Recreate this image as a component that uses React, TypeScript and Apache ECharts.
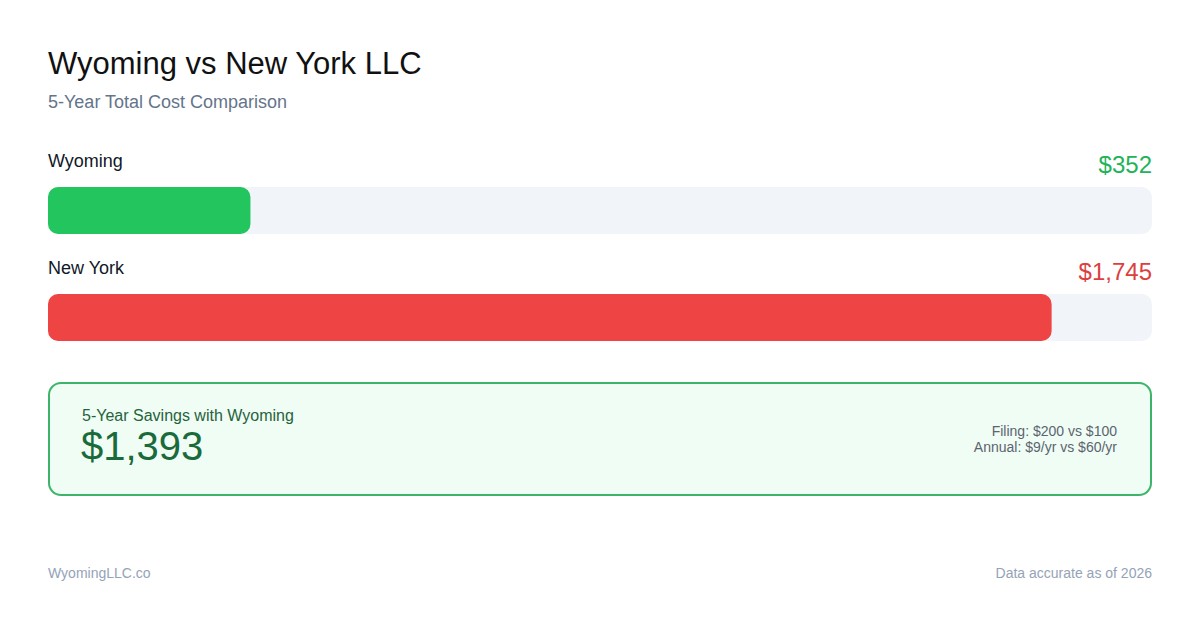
import React, { useEffect, useRef } from "react";
import * as echarts from "echarts";

const states = ["Wyoming", "New York"];
const totals = [352, 1745];
const barColors = ["#22c55e", "#ef4444"];
const valueColors = ["#22b35a", "#dc3f3f"];
const savings = 1393;
const details = ["Filing: $200 vs $100", "Annual: $9/yr vs $60/yr"];

const W = 1200;
const H = 630;
const FONT = "'Liberation Sans', Arial, Helvetica, sans-serif";
const fmt = (v: number) => "$" + v.toLocaleString("en-US");

export default function App() {
  const ref = useRef<HTMLDivElement>(null);
  useEffect(() => {
    if (!ref.current) return;
    const chart = echarts.init(ref.current, null, { renderer: "svg" });
    const gridTop = 157;
    const band = 107;
    const labelTexts: any[] = [];
    states.forEach((s, i) => {
      const cy = gridTop + band * i + band / 2;
      labelTexts.push({
        type: "text",
        left: 48,
        top: cy - 59,
        style: { text: s, font: `18px ${FONT}`, fill: "#111827" },
      });
      labelTexts.push({
        type: "text",
        right: 48,
        top: cy - 58,
        style: { text: fmt(totals[i]), font: `24px ${FONT}`, fill: valueColors[i] },
      });
    });
    chart.setOption({
      animation: false,
      backgroundColor: "#ffffff",
      textStyle: { fontFamily: FONT },
      grid: { left: 48, right: 48, top: gridTop, height: band * states.length },
      xAxis: {
        type: "value",
        min: 0,
        max: Math.max(...totals) * 1.1,
        show: false,
      },
      yAxis: {
        type: "category",
        data: states,
        inverse: true,
        show: false,
      },
      series: [
        {
          type: "bar",
          barWidth: 47,
          data: totals.map((v, i) => ({ value: v, itemStyle: { color: barColors[i] } })),
          itemStyle: { borderRadius: 10 },
          showBackground: true,
          backgroundStyle: { color: "#f1f5f9", borderRadius: 10 },
        },
      ],
      graphic: [
        {
          type: "text",
          left: 48,
          top: 48,
          style: { text: "Wyoming vs New York LLC", font: `31px ${FONT}`, fill: "#111111" },
        },
        {
          type: "text",
          left: 48,
          top: 93,
          style: { text: "5-Year Total Cost Comparison", font: `18px ${FONT}`, fill: "#64748b" },
        },
        ...labelTexts,
        {
          type: "rect",
          shape: { x: 49, y: 383, width: 1102, height: 112, r: 12 },
          style: { fill: "#f0fdf4", stroke: "#3cb46a", lineWidth: 2 },
        },
        {
          type: "text",
          left: 82,
          top: 407,
          style: { text: "5-Year Savings with Wyoming", font: `16px ${FONT}`, fill: "#25633c" },
        },
        {
          type: "text",
          left: 81,
          top: 426,
          style: { text: fmt(savings), font: `40px ${FONT}`, fill: "#1a6b3c" },
        },
        {
          type: "text",
          right: 83,
          top: 424,
          style: { text: details[0], font: `14px ${FONT}`, fill: "#5b6470", align: "right" },
        },
        {
          type: "text",
          right: 83,
          top: 440,
          style: { text: details[1], font: `14px ${FONT}`, fill: "#5b6470", align: "right" },
        },
        {
          type: "text",
          left: 48,
          top: 566,
          style: { text: "WyomingLLC.co", font: `14px ${FONT}`, fill: "#94a3b8" },
        },
        {
          type: "text",
          right: 48,
          top: 566,
          style: { text: "Data accurate as of 2026", font: `14px ${FONT}`, fill: "#94a3b8" },
        },
      ],
    });
    return () => chart.dispose();
  }, []);
  return (
    <div
      ref={ref}
      style={{ position: "fixed", left: 0, top: 0, width: W, height: H, background: "#fff" }}
    />
  );
}
